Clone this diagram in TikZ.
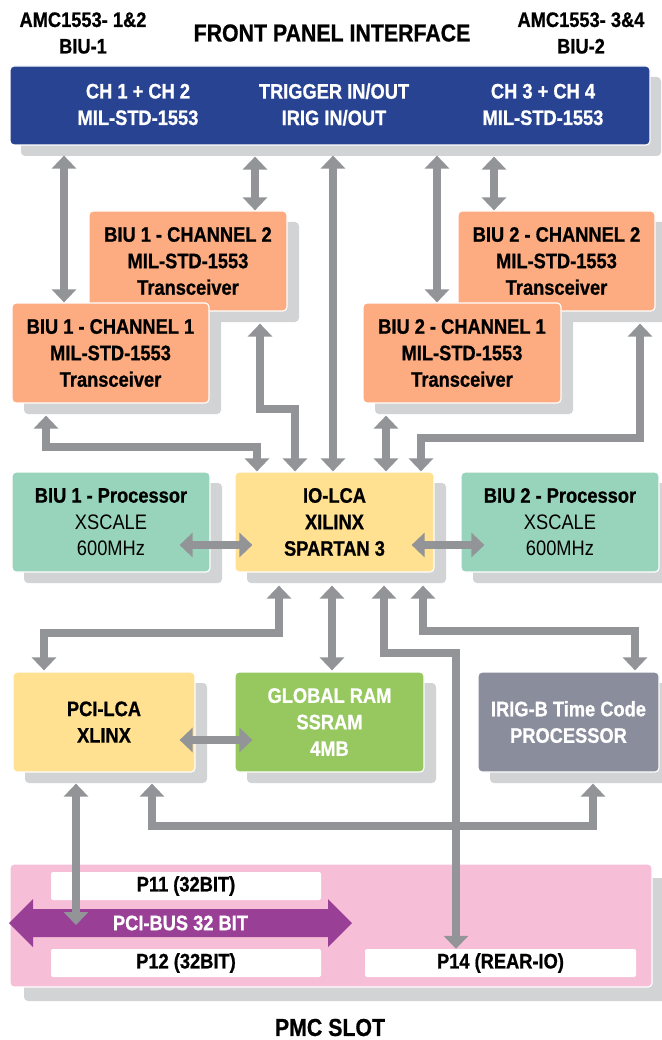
\documentclass[tikz,border=0pt]{standalone}
\usepackage{fontspec}
\setmainfont{Liberation Sans}[FakeStretch=0.87, BoldFeatures={FakeBold=0.8}]
\usetikzlibrary{arrows.meta}
\definecolor{fpblue}{RGB}{40,67,145}
\definecolor{orng}{RGB}{253,171,128}
\definecolor{mint}{RGB}{152,212,188}
\definecolor{ylw}{RGB}{255,225,145}
\definecolor{ramg}{RGB}{150,200,95}
\definecolor{irg}{RGB}{138,141,155}
\definecolor{pnk}{RGB}{247,190,216}
\definecolor{purp}{RGB}{154,63,150}
\definecolor{agray}{RGB}{146,148,152}
\definecolor{shgray}{RGB}{210,211,213}
\newcommand\mybf{\fontsize{21}{26.5}\selectfont\bfseries}
\newcommand\myrg{\fontsize{21}{26.5}\selectfont}
\newcommand\myttl{\fontsize{24.5}{30}\selectfont\bfseries}
\begin{document}
\begin{tikzpicture}[x=1pt,y=-1pt,
  >={Triangle[width=24pt,length=13pt]},
  sh/.style={preaction={fill=shgray,draw=none,transform canvas={shift={(#1)}}}},
  bx/.style={draw=white,line width=1.2pt,rounded corners=4pt,inner sep=0pt,align=center,font=\mybf,minimum height=100pt},
  conn/.style={draw=agray,line width=8pt,<->},
  lbl/.style={font=\mybf,align=center,inner sep=0pt},
  pbx/.style={fill=white,rounded corners=2pt,inner sep=0pt,font=\mybf,minimum width=270pt,minimum height=28pt},
]
\useasboundingbox (0,0) rectangle (661,1040);

% header
\node[font=\myttl] (title) at (332,33) {FRONT PANEL INTERFACE};
\node[lbl] (amcl) at (83,33) {AMC1553- 1\&2\\BIU-1};
\node[lbl] (amcr) at (581,33) {AMC1553- 3\&4\\BIU-2};

% front panel
\node[bx,sh={11pt,-11pt},fill=fpblue,minimum width=640pt,minimum height=79pt] (fp) at (330,105.5) {};
\node[lbl,text=white] (fp1) at (138,104.5) {CH 1 + CH 2\\MIL-STD-1553};
\node[lbl,text=white] (fp2) at (334,104.5) {TRIGGER IN/OUT\\IRIG IN/OUT};
\node[lbl,text=white] (fp3) at (543,104.5) {CH 3 + CH 4\\MIL-STD-1553};

% transceivers
\node[bx,sh={12pt,-11pt},fill=orng,minimum width=198pt] (c12) at (188,261) {BIU 1 - CHANNEL 2\\MIL-STD-1553\\Transceiver};
\node[bx,sh={12pt,-11pt},fill=orng,minimum width=197pt] (c11) at (110.5,353) {BIU 1 - CHANNEL 1\\MIL-STD-1553\\Transceiver};
\node[bx,sh={12pt,-11pt},fill=orng,minimum width=197pt] (c22) at (556.5,261) {BIU 2 - CHANNEL 2\\MIL-STD-1553\\Transceiver};
\node[bx,sh={12pt,-11pt},fill=orng,minimum width=198pt] (c21) at (462,353) {BIU 2 - CHANNEL 1\\MIL-STD-1553\\Transceiver};

% processors row
\node[bx,sh={12pt,-11pt},fill=mint,minimum width=198pt,font=\myrg] (p1) at (111,522) {{\bfseries BIU 1 - Processor}\\XSCALE\\600MHz};
\node[bx,sh={12pt,-11pt},fill=ylw,minimum width=199pt] (io) at (334.5,522) {IO-LCA\\XILINX\\SPARTAN 3};
\node[bx,sh={12pt,-11pt},fill=mint,minimum width=198pt,font=\myrg] (p2) at (560,522) {{\bfseries BIU 2 - Processor}\\XSCALE\\600MHz};

% second row
\node[bx,sh={12pt,-11pt},fill=ylw,minimum width=182pt] (pci) at (104,722) {PCI-LCA\\XLINX};
\node[bx,sh={12pt,-11pt},fill=ramg,minimum width=189pt,text=white] (ram) at (329.5,722) {GLOBAL RAM\\SSRAM\\4MB};
\node[bx,sh={12pt,-11pt},fill=irg,minimum width=181pt,text=white] (irig) at (568.5,722) {IRIG-B Time Code\\PROCESSOR};

% PMC slot
\node[bx,sh={14pt,-14pt},fill=pnk,minimum width=642pt,minimum height=123pt] (pmc) at (331,925.5) {};
\node[pbx] (p11) at (186,886) {P11 (32BIT)};
\node[pbx] (p12) at (186,963) {P12 (32BIT)};
\node[pbx,minimum width=271pt] (p14) at (500.5,963) {P14 (REAR-IO)};
\fill[purp] (9,923) -- (33,899) -- (33,909) -- (328,909) -- (328,899) -- (352,923)
  -- (328,947) -- (328,937) -- (33,937) -- (33,947) -- cycle;
\node[lbl,text=white] (bus) at (180.5,923) {PCI-BUS 32 BIT};
\node[font=\myttl,inner sep=0pt] (pmcl) at (330,1027.5) {PMC SLOT};

% connectors
\draw[conn] ([xshift=-266pt,yshift=-10pt]fp.south) -- ([xshift=-46.5pt]c11.north);
\draw[conn] ([xshift=-75pt,yshift=-11pt]fp.south) -- ([xshift=67pt]c12.north);
\draw[conn] ([xshift=3pt,yshift=-10pt]fp.south) -- ([xshift=-1.5pt]io.north);
\draw[conn] ([xshift=107pt,yshift=-10pt]fp.south) -- ([xshift=-25pt]c21.north);
\draw[conn] ([xshift=164pt,yshift=-11pt]fp.south) -- ([xshift=-62.5pt]c22.north);
\draw[conn] ([xshift=72pt,yshift=-12pt]c12.south) -- ++(0,85) -| ([xshift=-39.5pt]io.north);
\draw[conn] ([xshift=-64.5pt,yshift=-12pt]c11.south) -- ++(0,31) -| ([xshift=-77.5pt]io.north);
\draw[conn] ([xshift=-76pt,yshift=-12pt]c21.south) -- ([xshift=51.5pt]io.north);
\draw[conn] ([xshift=83.5pt,yshift=-12pt]c22.south) -- ++(0,114) -| ([xshift=86.5pt]io.north);
\draw[conn] ([xshift=-31pt,yshift=-23pt]p1.east) -- ([xshift=18pt,yshift=-23pt]io.west);
\draw[conn] ([xshift=-23pt,yshift=-23pt]io.east) -- ([xshift=24pt,yshift=-23pt]p2.west);
\draw[conn] ([xshift=-55.5pt,yshift=-13pt]io.south) -- ++(0,47) -| ([xshift=-60pt,yshift=1pt]pci.north);
\draw[conn] ([xshift=-2.5pt,yshift=-13pt]io.south) -- ([xshift=2.5pt,yshift=1pt]ram.north);
\draw[conn] ([xshift=88.5pt,yshift=-13pt]io.south) -- ++(0,45) -| ([xshift=66.5pt,yshift=1pt]irig.north);
\draw[conn] ([xshift=-16pt,yshift=-18pt]pci.east) -- ([xshift=18pt,yshift=-18pt]ram.west);
\draw[conn] ([xshift=48pt,yshift=-11pt]pci.south) -- ++(0,42) -| ([xshift=24.5pt,yshift=-11pt]irig.south);
\draw[conn] ([xshift=49.5pt,yshift=-13pt]io.south) -- ++(0,67) -| ([xshift=-44.5pt]p14.north);
\draw[conn] ([xshift=-28pt,yshift=-11pt]pci.south) -- ([xshift=-104.5pt,yshift=-2pt]bus.center);
\end{tikzpicture}
\end{document}
